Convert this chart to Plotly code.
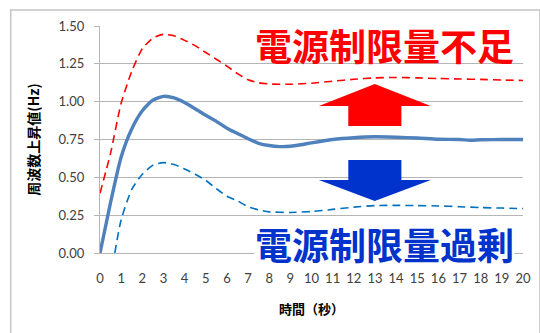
import plotly.graph_objects as go

# Time axis (seconds) and frequency rise (Hz) for the three cases
t_main = [0, 0.5, 1, 1.5, 2, 2.5, 3, 3.5, 4, 4.5, 5, 5.5, 6, 6.5, 7, 7.5, 8, 8.5,
          9, 9.5, 10, 11, 12, 13, 14, 15, 16, 17, 17.5, 18, 19, 20]
rise_main = [0.00, 0.335, 0.635, 0.82, 0.94, 1.01, 1.035, 1.025, 0.995, 0.953, 0.91,
             0.87, 0.825, 0.79, 0.755, 0.725, 0.71, 0.703, 0.705, 0.715, 0.728, 0.75,
             0.762, 0.768, 0.765, 0.76, 0.752, 0.75, 0.745, 0.748, 0.75, 0.75]

t_short = [0, 0.5, 1, 1.5, 2, 2.5, 3, 3.5, 4, 4.5, 5, 5.5, 6, 6.5, 7, 7.5, 8, 9,
           10, 11, 12, 13, 14, 15, 16, 17, 18, 19, 20]
rise_short = [0.395, 0.66, 0.99, 1.20, 1.35, 1.42, 1.445, 1.435, 1.405, 1.37, 1.325,
              1.28, 1.235, 1.185, 1.145, 1.125, 1.117, 1.115, 1.122, 1.135, 1.148,
              1.157, 1.16, 1.157, 1.153, 1.15, 1.147, 1.143, 1.14]

t_excess = [0.7, 1, 1.5, 2, 2.5, 3, 3.5, 4, 4.5, 5, 5.5, 6, 6.5, 7, 7.5, 8, 9, 10,
            11, 12, 13, 14, 15, 16, 17, 18, 19, 20]
rise_excess = [0.0, 0.22, 0.42, 0.52, 0.58, 0.597, 0.585, 0.555, 0.52, 0.48, 0.425,
               0.375, 0.345, 0.305, 0.285, 0.272, 0.268, 0.274, 0.288, 0.303, 0.313,
               0.315, 0.313, 0.311, 0.306, 0.30, 0.297, 0.293]

x_ticks = list(range(0, 21))
y_ticks = [0.00, 0.25, 0.50, 0.75, 1.00, 1.25, 1.50]

label_short = "電源制限量不足"
label_excess = "電源制限量過剰"
x_title = "時間（秒）"
y_title = "周波数上昇値(Hz)"

RED = "#FF0000"
BLUE_TXT = "#0033CC"
GRID = "#B5B5B5"
TICK_FONT = dict(family="Lato, 'Open Sans', sans-serif", size=13, color="#404040")
CJK_BOLD = "'Noto Sans CJK JP', sans-serif"

fig = go.Figure()
fig.add_trace(go.Scatter(x=t_short, y=rise_short, mode="lines",
                         line=dict(color=RED, width=1.6, dash="8px,5px",
                                   shape="spline", smoothing=0.6),
                         hoverinfo="skip"))
fig.add_trace(go.Scatter(x=t_excess, y=rise_excess, mode="lines",
                         line=dict(color="#0070C0", width=1.6, dash="8px,5px",
                                   shape="spline", smoothing=0.6),
                         hoverinfo="skip"))
fig.add_trace(go.Scatter(x=t_main, y=rise_main, mode="lines",
                         line=dict(color="#4F81BD", width=3.4,
                                   shape="spline", smoothing=0.6),
                         hoverinfo="skip"))

# Block arrows, outlined in axis units (seconds, Hz)
def arrow_path(xl, xr, sl, sr, y_shaft_end, y_base, y_tip, x_tip):
    return (f"M {sl},{y_shaft_end} L {sl},{y_base} L {xl},{y_base} L {x_tip},{y_tip} "
            f"L {xr},{y_base} L {sr},{y_base} L {sr},{y_shaft_end} Z")

up_arrow = arrow_path(10.35, 15.64, 11.74, 14.25, 0.839, 0.972, 1.117, 12.99)
down_arrow = arrow_path(10.35, 15.64, 11.74, 14.25, 0.615, 0.4825, 0.344, 12.99)

shapes = [
    dict(type="path", xref="x", yref="y", path=up_arrow,
         fillcolor=RED, line=dict(width=0), layer="above"),
    dict(type="path", xref="x", yref="y", path=down_arrow,
         fillcolor=BLUE_TXT, line=dict(width=0), layer="above"),
    # outer chart frame
    dict(type="rect", xref="paper", yref="paper",
         x0=-0.2111, x1=1.04, y0=-0.40, y1=1.0705,
         line=dict(color="#C4C4C4", width=1.5), fillcolor="rgba(0,0,0,0)",
         layer="below"),
]

annotations = [
    dict(x=13.45, y=1.375, xref="x", yref="y", text=label_short, showarrow=False,
         font=dict(family=CJK_BOLD, size=37, color=RED, weight="bold"),
         xanchor="center", yanchor="middle", height=40, valign="middle"),
    dict(x=13.45, y=0.058, xref="x", yref="y", text=label_excess, showarrow=False,
         font=dict(family=CJK_BOLD, size=37, color=BLUE_TXT, weight="bold"),
         xanchor="center", yanchor="middle", height=40, valign="middle",
         bgcolor="white", borderpad=0),
]

fig.update_layout(
    width=540, height=333,
    margin=dict(l=100, r=9, t=26, b=80),
    paper_bgcolor="white", plot_bgcolor="white",
    showlegend=False,
    shapes=shapes,
    annotations=annotations,
    xaxis=dict(range=[0, 20], tickvals=x_ticks, ticktext=[str(v) for v in x_ticks],
               showgrid=False, zeroline=False, showline=True, linecolor=GRID,
               linewidth=1.3, ticks="", tickfont=TICK_FONT, ticklabelstandoff=13,
               title=dict(text=x_title, standoff=20,
                          font=dict(family=CJK_BOLD, size=13, color="black",
                                    weight="bold"))),
    yaxis=dict(range=[0, 1.5], tickvals=y_ticks, tickformat=".2f",
               showgrid=True, gridcolor=GRID, gridwidth=1.3, zeroline=False,
               showline=True, linecolor=GRID, linewidth=1.3,
               ticks="outside", ticklen=5, tickcolor=GRID, tickwidth=1.3,
               tickfont=TICK_FONT, ticklabelstandoff=7,
               title=dict(text=y_title, standoff=15,
                          font=dict(family=CJK_BOLD, size=14, color="black",
                                    weight="bold"))),
)

fig.write_html("out.html")
